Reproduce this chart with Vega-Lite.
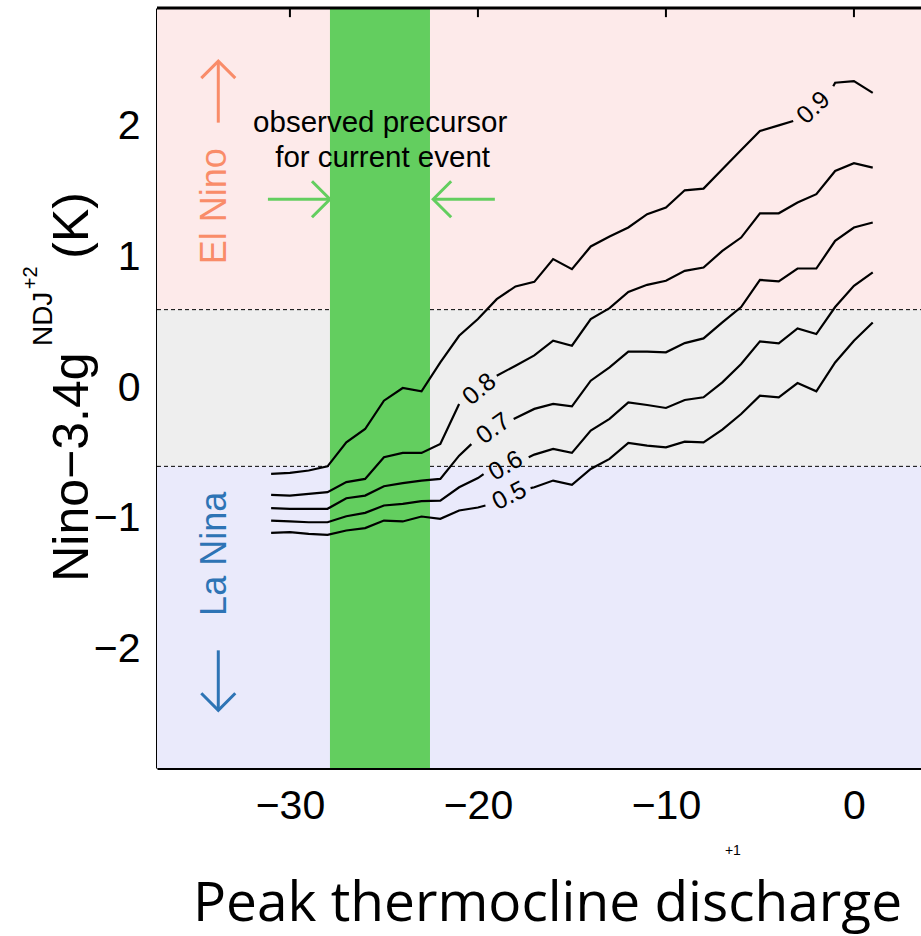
{
  "$schema": "https://vega.github.io/schema/vega-lite/v6.json",
  "width": 765,
  "height": 760,
  "autosize": {"type": "none"},
  "padding": {"left": 157, "top": 8, "right": 0, "bottom": 168},
  "background": "white",
  "config": {
    "view": {"stroke": null},
    "font": "Liberation Sans",
    "axis": {
      "grid": false,
      "tickColor": "black",
      "tickWidth": 2,
      "tickSize": -9,
      "domainColor": "black",
      "domainWidth": 3,
      "labelColor": "black",
      "labelFont": "Liberation Sans",
      "labelFontSize": 41
    }
  },
  "data": {"values": [{}]},
  "datasets": {
    "contours": [
      {"id": "0.9a", "x": -31, "y": -0.658}, {"id": "0.9a", "x": -30, "y": -0.65}, {"id": "0.9a", "x": -29, "y": -0.632}, {"id": "0.9a", "x": -28, "y": -0.6}, {"id": "0.9a", "x": -27, "y": -0.416}, {"id": "0.9a", "x": -26, "y": -0.314}, {"id": "0.9a", "x": -25, "y": -0.097}, {"id": "0.9a", "x": -24, "y": 0.0}, {"id": "0.9a", "x": -23, "y": -0.025}, {"id": "0.9a", "x": -22, "y": 0.196}, {"id": "0.9a", "x": -21, "y": 0.4}, {"id": "0.9a", "x": -20, "y": 0.528}, {"id": "0.9a", "x": -19, "y": 0.68}, {"id": "0.9a", "x": -18, "y": 0.778}, {"id": "0.9a", "x": -17, "y": 0.813}, {"id": "0.9a", "x": -16, "y": 0.987}, {"id": "0.9a", "x": -15, "y": 0.91}, {"id": "0.9a", "x": -14, "y": 1.084}, {"id": "0.9a", "x": -13, "y": 1.16}, {"id": "0.9a", "x": -12, "y": 1.229}, {"id": "0.9a", "x": -11, "y": 1.331}, {"id": "0.9a", "x": -10, "y": 1.382}, {"id": "0.9a", "x": -9, "y": 1.514}, {"id": "0.9a", "x": -8, "y": 1.527}, {"id": "0.9a", "x": -7, "y": 1.675}, {"id": "0.9a", "x": -6, "y": 1.823}, {"id": "0.9a", "x": -5, "y": 1.968}, {"id": "0.9a", "x": -4, "y": 2.011}, {"id": "0.9a", "x": -3.23, "y": 2.045},
      {"id": "0.9b", "x": -1.1, "y": 2.31}, {"id": "0.9b", "x": -1, "y": 2.338}, {"id": "0.9b", "x": 0, "y": 2.35}, {"id": "0.9b", "x": 1, "y": 2.26},
      {"id": "0.8a", "x": -31, "y": -0.818}, {"id": "0.8a", "x": -30, "y": -0.824}, {"id": "0.8a", "x": -29, "y": -0.811}, {"id": "0.8a", "x": -28, "y": -0.798}, {"id": "0.8a", "x": -27, "y": -0.721}, {"id": "0.8a", "x": -26, "y": -0.696}, {"id": "0.8a", "x": -25, "y": -0.53}, {"id": "0.8a", "x": -24, "y": -0.497}, {"id": "0.8a", "x": -23, "y": -0.497}, {"id": "0.8a", "x": -22, "y": -0.428}, {"id": "0.8a", "x": -21, "y": -0.122},
      {"id": "0.8b", "x": -19, "y": 0.094}, {"id": "0.8b", "x": -18, "y": 0.171}, {"id": "0.8b", "x": -17, "y": 0.25}, {"id": "0.8b", "x": -16, "y": 0.362}, {"id": "0.8b", "x": -15, "y": 0.324}, {"id": "0.8b", "x": -14, "y": 0.528}, {"id": "0.8b", "x": -13, "y": 0.612}, {"id": "0.8b", "x": -12, "y": 0.735}, {"id": "0.8b", "x": -11, "y": 0.79}, {"id": "0.8b", "x": -10, "y": 0.821}, {"id": "0.8b", "x": -9, "y": 0.897}, {"id": "0.8b", "x": -8, "y": 0.923}, {"id": "0.8b", "x": -7, "y": 1.05}, {"id": "0.8b", "x": -6, "y": 1.152}, {"id": "0.8b", "x": -5, "y": 1.338}, {"id": "0.8b", "x": -4, "y": 1.338}, {"id": "0.8b", "x": -3, "y": 1.42}, {"id": "0.8b", "x": -2, "y": 1.484}, {"id": "0.8b", "x": -1, "y": 1.662}, {"id": "0.8b", "x": 0, "y": 1.721}, {"id": "0.8b", "x": 1, "y": 1.688},
      {"id": "0.7a", "x": -31, "y": -0.92}, {"id": "0.7a", "x": -30, "y": -0.925}, {"id": "0.7a", "x": -29, "y": -0.925}, {"id": "0.7a", "x": -28, "y": -0.925}, {"id": "0.7a", "x": -27, "y": -0.844}, {"id": "0.7a", "x": -26, "y": -0.824}, {"id": "0.7a", "x": -25, "y": -0.752}, {"id": "0.7a", "x": -24, "y": -0.729}, {"id": "0.7a", "x": -23, "y": -0.709}, {"id": "0.7a", "x": -22, "y": -0.696}, {"id": "0.7a", "x": -21, "y": -0.518}, {"id": "0.7a", "x": -20.35, "y": -0.43},
      {"id": "0.7b", "x": -18.1, "y": -0.237}, {"id": "0.7b", "x": -17, "y": -0.16}, {"id": "0.7b", "x": -16, "y": -0.122}, {"id": "0.7b", "x": -15, "y": -0.14}, {"id": "0.7b", "x": -14, "y": 0.056}, {"id": "0.7b", "x": -13, "y": 0.158}, {"id": "0.7b", "x": -12, "y": 0.278}, {"id": "0.7b", "x": -11, "y": 0.278}, {"id": "0.7b", "x": -10, "y": 0.273}, {"id": "0.7b", "x": -9, "y": 0.344}, {"id": "0.7b", "x": -8, "y": 0.38}, {"id": "0.7b", "x": -7, "y": 0.502}, {"id": "0.7b", "x": -6, "y": 0.62}, {"id": "0.7b", "x": -5, "y": 0.828}, {"id": "0.7b", "x": -4, "y": 0.816}, {"id": "0.7b", "x": -3, "y": 0.915}, {"id": "0.7b", "x": -2, "y": 0.915}, {"id": "0.7b", "x": -1, "y": 1.127}, {"id": "0.7b", "x": 0, "y": 1.229}, {"id": "0.7b", "x": 1, "y": 1.267},
      {"id": "0.6a", "x": -31, "y": -1.015}, {"id": "0.6a", "x": -30, "y": -1.022}, {"id": "0.6a", "x": -29, "y": -1.028}, {"id": "0.6a", "x": -28, "y": -1.028}, {"id": "0.6a", "x": -27, "y": -0.982}, {"id": "0.6a", "x": -26, "y": -0.956}, {"id": "0.6a", "x": -25, "y": -0.9}, {"id": "0.6a", "x": -24, "y": -0.887}, {"id": "0.6a", "x": -23, "y": -0.867}, {"id": "0.6a", "x": -22, "y": -0.862}, {"id": "0.6a", "x": -21, "y": -0.76}, {"id": "0.6a", "x": -20, "y": -0.69}, {"id": "0.6a", "x": -19.7, "y": -0.66},
      {"id": "0.6b", "x": -17.3, "y": -0.53}, {"id": "0.6b", "x": -17, "y": -0.51}, {"id": "0.6b", "x": -16, "y": -0.467}, {"id": "0.6b", "x": -15, "y": -0.497}, {"id": "0.6b", "x": -14, "y": -0.326}, {"id": "0.6b", "x": -13, "y": -0.237}, {"id": "0.6b", "x": -12, "y": -0.11}, {"id": "0.6b", "x": -11, "y": -0.13}, {"id": "0.6b", "x": -10, "y": -0.153}, {"id": "0.6b", "x": -9, "y": -0.092}, {"id": "0.6b", "x": -8, "y": -0.071}, {"id": "0.6b", "x": -7, "y": 0.043}, {"id": "0.6b", "x": -6, "y": 0.184}, {"id": "0.6b", "x": -5, "y": 0.357}, {"id": "0.6b", "x": -4, "y": 0.342}, {"id": "0.6b", "x": -3, "y": 0.456}, {"id": "0.6b", "x": -2, "y": 0.413}, {"id": "0.6b", "x": -1, "y": 0.62}, {"id": "0.6b", "x": 0, "y": 0.782}, {"id": "0.6b", "x": 1, "y": 0.885},
      {"id": "0.5a", "x": -31, "y": -1.109}, {"id": "0.5a", "x": -30, "y": -1.104}, {"id": "0.5a", "x": -29, "y": -1.117}, {"id": "0.5a", "x": -28, "y": -1.124}, {"id": "0.5a", "x": -27, "y": -1.091}, {"id": "0.5a", "x": -26, "y": -1.073}, {"id": "0.5a", "x": -25, "y": -1.015}, {"id": "0.5a", "x": -24, "y": -1.022}, {"id": "0.5a", "x": -23, "y": -0.984}, {"id": "0.5a", "x": -22, "y": -1.002}, {"id": "0.5a", "x": -21, "y": -0.938}, {"id": "0.5a", "x": -20, "y": -0.915}, {"id": "0.5a", "x": -19.6, "y": -0.9},
      {"id": "0.5b", "x": -17.2, "y": -0.767}, {"id": "0.5b", "x": -17, "y": -0.76}, {"id": "0.5b", "x": -16, "y": -0.709}, {"id": "0.5b", "x": -15, "y": -0.742}, {"id": "0.5b", "x": -14, "y": -0.62}, {"id": "0.5b", "x": -13, "y": -0.543}, {"id": "0.5b", "x": -12, "y": -0.421}, {"id": "0.5b", "x": -11, "y": -0.441}, {"id": "0.5b", "x": -10, "y": -0.454}, {"id": "0.5b", "x": -9, "y": -0.411}, {"id": "0.5b", "x": -8, "y": -0.416}, {"id": "0.5b", "x": -7, "y": -0.319}, {"id": "0.5b", "x": -6, "y": -0.199}, {"id": "0.5b", "x": -5, "y": -0.059}, {"id": "0.5b", "x": -4, "y": -0.071}, {"id": "0.5b", "x": -3, "y": 0.038}, {"id": "0.5b", "x": -2, "y": -0.025}, {"id": "0.5b", "x": -1, "y": 0.196}, {"id": "0.5b", "x": 0, "y": 0.362}, {"id": "0.5b", "x": 1, "y": 0.502}
    ]
  },
  "layer": [
    {
      "mark": {"type": "rect", "color": "#FDEAEA"},
      "encoding": {
        "x": {"datum": -37.07, "type": "quantitative", "scale": {"domain": [-37.07, 3.62], "nice": false, "zero": false}},
        "x2": {"datum": 3.62},
        "y": {"datum": 0.6, "type": "quantitative", "scale": {"domain": [-2.91, 2.91], "nice": false, "zero": false}},
        "y2": {"datum": 2.91}
      }
    },
    {
      "mark": {"type": "rect", "color": "#EEEEEE"},
      "encoding": {"x": {"datum": -37.07, "type": "quantitative"}, "x2": {"datum": 3.62}, "y": {"datum": -0.6, "type": "quantitative"}, "y2": {"datum": 0.6}}
    },
    {
      "mark": {"type": "rect", "color": "#EAEAFB"},
      "encoding": {"x": {"datum": -37.07, "type": "quantitative"}, "x2": {"datum": 3.62}, "y": {"datum": -2.91, "type": "quantitative"}, "y2": {"datum": -0.6}}
    },
    {
      "data": {"values": [{"threshold": 0.6}, {"threshold": -0.6}]},
      "mark": {"type": "rule", "color": "black", "strokeWidth": 1, "strokeDash": [4, 3]},
      "encoding": {"x": {"datum": -37.07, "type": "quantitative"}, "x2": {"datum": 3.62}, "y": {"field": "threshold", "type": "quantitative"}}
    },
    {
      "mark": {"type": "rect", "color": "#63CE5F"},
      "encoding": {"x": {"datum": -27.87, "type": "quantitative"}, "x2": {"datum": -22.55}, "y": {"datum": -2.91, "type": "quantitative"}, "y2": {"datum": 2.91}}
    },
    {
      "data": {"name": "contours"},
      "mark": {"type": "line", "color": "black", "strokeWidth": 2.2, "strokeJoin": "miter"},
      "encoding": {
        "x": {"field": "x", "type": "quantitative", "axis": {"orient": "bottom", "values": [-30, -20, -10, 0], "format": "d", "title": null, "labelPadding": 27, "labelFlush": false, "labelOverlap": false}},
        "y": {"field": "y", "type": "quantitative", "axis": {"orient": "left", "values": [-2, -1, 0, 1, 2], "format": "d", "title": null, "labelPadding": 26, "labelFlush": false, "labelOverlap": false}},
        "detail": {"field": "id", "type": "nominal"}
      }
    },
    {"mark": {"type": "text", "text": "0.9", "angle": -43, "fontSize": 25, "color": "black", "align": "center", "baseline": "middle"}, "encoding": {"x": {"datum": -2.16, "type": "quantitative"}, "y": {"datum": 2.147, "type": "quantitative"}}},
    {"mark": {"type": "text", "text": "0.8", "angle": -40, "fontSize": 25, "color": "black", "align": "center", "baseline": "middle"}, "encoding": {"x": {"datum": -19.93, "type": "quantitative"}, "y": {"datum": -0.008, "type": "quantitative"}}},
    {"mark": {"type": "text", "text": "0.7", "angle": -36, "fontSize": 25, "color": "black", "align": "center", "baseline": "middle"}, "encoding": {"x": {"datum": -19.19, "type": "quantitative"}, "y": {"datum": -0.308, "type": "quantitative"}}},
    {"mark": {"type": "text", "text": "0.6", "angle": -30, "fontSize": 25, "color": "black", "align": "center", "baseline": "middle"}, "encoding": {"x": {"datum": -18.53, "type": "quantitative"}, "y": {"datum": -0.594, "type": "quantitative"}}},
    {"mark": {"type": "text", "text": "0.5", "angle": -27, "fontSize": 25, "color": "black", "align": "center", "baseline": "middle"}, "encoding": {"x": {"datum": -18.33, "type": "quantitative"}, "y": {"datum": -0.824, "type": "quantitative"}}},
    {"mark": {"type": "text", "text": "observed precursor", "fontSize": 29.5, "color": "black", "align": "center", "baseline": "alphabetic"}, "encoding": {"x": {"datum": -25.2, "type": "quantitative"}, "y": {"datum": 1.958, "type": "quantitative"}}},
    {"mark": {"type": "text", "text": "for current event", "fontSize": 29.5, "color": "black", "align": "center", "baseline": "alphabetic"}, "encoding": {"x": {"datum": -25.07, "type": "quantitative"}, "y": {"datum": 1.69, "type": "quantitative"}}},
    {"mark": {"type": "text", "text": "El Nino", "angle": 270, "fontSize": 36, "color": "#F98C69", "align": "center", "baseline": "middle"}, "encoding": {"x": {"datum": -33.99, "type": "quantitative"}, "y": {"datum": 1.392, "type": "quantitative"}}},
    {"mark": {"type": "text", "text": "La Nina", "angle": 270, "fontSize": 36, "color": "#2E74B5", "align": "center", "baseline": "middle"}, "encoding": {"x": {"datum": -33.99, "type": "quantitative"}, "y": {"datum": -1.27, "type": "quantitative"}}},
    {"mark": {"type": "rule", "color": "#63CE5F", "strokeWidth": 3}, "encoding": {"x": {"datum": -31.17, "type": "quantitative"}, "x2": {"datum": -27.95}, "y": {"datum": 1.4455, "type": "quantitative"}}},
    {"mark": {"type": "point", "shape": "M-1,-1L0,0L-1,1", "filled": false, "size": 1296, "strokeWidth": 3, "color": "#63CE5F", "opacity": 1, "angle": 0}, "encoding": {"x": {"datum": -27.87, "type": "quantitative"}, "y": {"datum": 1.4455, "type": "quantitative"}}},
    {"mark": {"type": "rule", "color": "#63CE5F", "strokeWidth": 3}, "encoding": {"x": {"datum": -22.3, "type": "quantitative"}, "x2": {"datum": -19.1}, "y": {"datum": 1.4455, "type": "quantitative"}}},
    {"mark": {"type": "point", "shape": "M-1,-1L0,0L-1,1", "filled": false, "size": 1296, "strokeWidth": 3, "color": "#63CE5F", "opacity": 1, "angle": 180}, "encoding": {"x": {"datum": -22.38, "type": "quantitative"}, "y": {"datum": 1.4455, "type": "quantitative"}}},
    {"mark": {"type": "rule", "color": "#F98C69", "strokeWidth": 3}, "encoding": {"x": {"datum": -33.81, "type": "quantitative"}, "y": {"datum": 2.032, "type": "quantitative"}, "y2": {"datum": 2.49}}},
    {"mark": {"type": "point", "shape": "M-1,-1L0,0L-1,1", "filled": false, "size": 1156, "strokeWidth": 3, "color": "#F98C69", "opacity": 1, "angle": 270}, "encoding": {"x": {"datum": -33.81, "type": "quantitative"}, "y": {"datum": 2.503, "type": "quantitative"}}},
    {"mark": {"type": "rule", "color": "#2E74B5", "strokeWidth": 3}, "encoding": {"x": {"datum": -33.81, "type": "quantitative"}, "y": {"datum": -2.009, "type": "quantitative"}, "y2": {"datum": -2.455}}},
    {"mark": {"type": "point", "shape": "M-1,-1L0,0L-1,1", "filled": false, "size": 1156, "strokeWidth": 3, "color": "#2E74B5", "opacity": 1, "angle": 90}, "encoding": {"x": {"datum": -33.81, "type": "quantitative"}, "y": {"datum": -2.468, "type": "quantitative"}}},
    {"mark": {"type": "rule", "color": "black", "strokeWidth": 3}, "encoding": {"x": {"datum": -37.07, "type": "quantitative"}, "x2": {"datum": 3.62}, "y": {"datum": 2.91, "type": "quantitative"}}},
    {
      "data": {"values": [{"tick": -30}, {"tick": -20}, {"tick": -10}, {"tick": 0}]},
      "mark": {"type": "rule", "color": "black", "strokeWidth": 2},
      "encoding": {"x": {"field": "tick", "type": "quantitative"}, "y": {"datum": 2.91, "type": "quantitative"}, "y2": {"datum": 2.84}}
    },
    {"mark": {"type": "text", "text": "Nino\u22123.4g", "angle": 270, "fontSize": 50, "color": "black", "align": "left", "baseline": "alphabetic"}, "encoding": {"x": {"datum": -40.74, "type": "quantitative"}, "y": {"datum": -1.484, "type": "quantitative"}}},
    {"mark": {"type": "text", "text": "NDJ", "angle": 270, "fontSize": 28, "color": "black", "align": "left", "baseline": "alphabetic"}, "encoding": {"x": {"datum": -42.66, "type": "quantitative"}, "y": {"datum": 0.321, "type": "quantitative"}}},
    {"mark": {"type": "text", "text": "+2", "angle": 270, "fontSize": 20, "color": "black", "align": "left", "baseline": "alphabetic"}, "encoding": {"x": {"datum": -43.46, "type": "quantitative"}, "y": {"datum": 0.757, "type": "quantitative"}}},
    {"mark": {"type": "text", "text": "(K)", "angle": 270, "fontSize": 50, "color": "black", "align": "left", "baseline": "alphabetic"}, "encoding": {"x": {"datum": -40.74, "type": "quantitative"}, "y": {"datum": 0.99, "type": "quantitative"}}},
    {"mark": {"type": "text", "text": "+1", "fontSize": 14, "color": "black", "align": "center", "baseline": "alphabetic"}, "encoding": {"x": {"datum": -6.44, "type": "quantitative"}, "y": {"datum": -3.58, "type": "quantitative"}}},
    {"mark": {"type": "text", "text": "Peak thermocline discharge", "font": "Open Sans", "fontSize": 55, "color": "black", "align": "center", "baseline": "alphabetic"}, "encoding": {"x": {"datum": -16.3, "type": "quantitative"}, "y": {"datum": -4.08, "type": "quantitative"}}}
  ]
}
